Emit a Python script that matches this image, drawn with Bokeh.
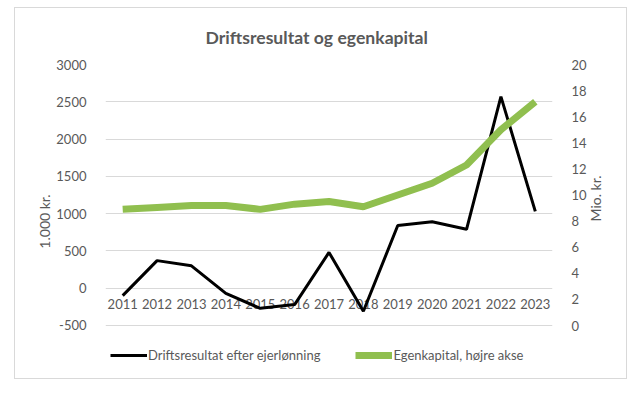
import math
from bokeh.plotting import figure
from bokeh.models import Range1d, LinearAxis, FixedTicker, Legend, LegendItem, PrintfTickFormatter
from bokeh.core.properties import value
from bokeh.embed import file_html
from bokeh.resources import INLINE

years = ["2011", "2012", "2013", "2014", "2015", "2016", "2017", "2018", "2019", "2020", "2021", "2022", "2023"]
drift = [-100, 370, 300, -70, -270, -220, 480, -310, 840, 890, 790, 2570, 1030]
egenkapital = [8.9, 9.05, 9.2, 9.2, 8.9, 9.3, 9.5, 9.1, 10.0, 10.9, 12.3, 15.0, 17.15]

left_ticks = [-500, 0, 500, 1000, 1500, 2000, 2500, 3000]
right_ticks = [0, 2, 4, 6, 8, 10, 12, 14, 16, 18, 20]

FONT = "Lato"
GREY = "#595959"

# plot area runs from -500 to 3000 (left) / 0 to 20 (right); the frame is extended
# downward so the legend can sit under the axis inside the frame
p = figure(x_range=years, y_range=Range1d(-1211, 3000),
           frame_width=447, frame_height=314,
           min_border_left=90, min_border_right=74, min_border_top=56, min_border_bottom=0,
           output_backend="svg", toolbar_location=None,
           title="Driftsresultat og egenkapital",
           x_axis_location=None, y_axis_location=None)
p.margin = (7, 0, 0, 14)
p.styles = {"border": "1px solid #d9d9d9"}
p.outline_line_color = None
p.title.align = "left"
p.title.offset = 100
p.title.standoff = 30
p.title.vertical_align = "top"
p.title.text_font = FONT
p.title.text_font_size = "17.6px"
p.title.text_font_style = "bold"
p.title.text_color = GREY

p.extra_y_ranges = {"right": Range1d(-4.061, 20)}

yl = LinearAxis(ticker=FixedTicker(ticks=left_ticks), axis_label="1.000 kr.",
                formatter=PrintfTickFormatter(format="%d"))
yr = LinearAxis(y_range_name="right", ticker=FixedTicker(ticks=right_ticks), axis_label="Mio. kr.",
                formatter=PrintfTickFormatter(format="%d"))
for ax in (yl, yr):
    ax.axis_line_color = None
    ax.major_tick_line_color = None
    ax.minor_tick_line_color = None
    ax.major_label_text_font = FONT
    ax.major_label_text_font_size = "13px"
    ax.major_label_text_color = GREY
    ax.major_label_standoff = 13
    ax.axis_label_text_font = FONT
    ax.axis_label_text_font_size = "14px"
    ax.axis_label_text_font_style = "normal"
    ax.axis_label_text_color = GREY
yl.axis_label_standoff = 0
yr.axis_label_standoff = 6
if "axis_label_orientation" in yr.properties():
    yr.axis_label_orientation = math.pi / 2
p.add_layout(yl, "left")
p.add_layout(yr, "right")

p.ygrid.ticker = FixedTicker(ticks=left_ticks)
p.ygrid.grid_line_color = "#d9d9d9"
p.xgrid.grid_line_color = None

# category labels sitting just below the zero line
p.text(x=years, y=[0] * len(years), text=years, y_offset=11,
       text_align="center", text_baseline="top",
       text_font=value(FONT), text_font_size="13px", text_color=GREY)

r1 = p.line(years, drift, line_color="black", line_width=3)
r2 = p.line(years, egenkapital, y_range_name="right", line_color="#90bf4f", line_width=7)

legend = Legend(items=[LegendItem(label="Driftsresultat efter ejerlønning", renderers=[r1]),
                       LegendItem(label="Egenkapital, højre akse", renderers=[r2])],
                orientation="horizontal", location=(5, 13), padding=0, margin=0,
                glyph_width=37, label_standoff=1, spacing=35,
                label_text_font=FONT, label_text_font_size="13px", label_text_color=GREY,
                border_line_color=None, background_fill_alpha=0)
p.add_layout(legend)

open("out.html", "w").write(file_html(p, INLINE))
